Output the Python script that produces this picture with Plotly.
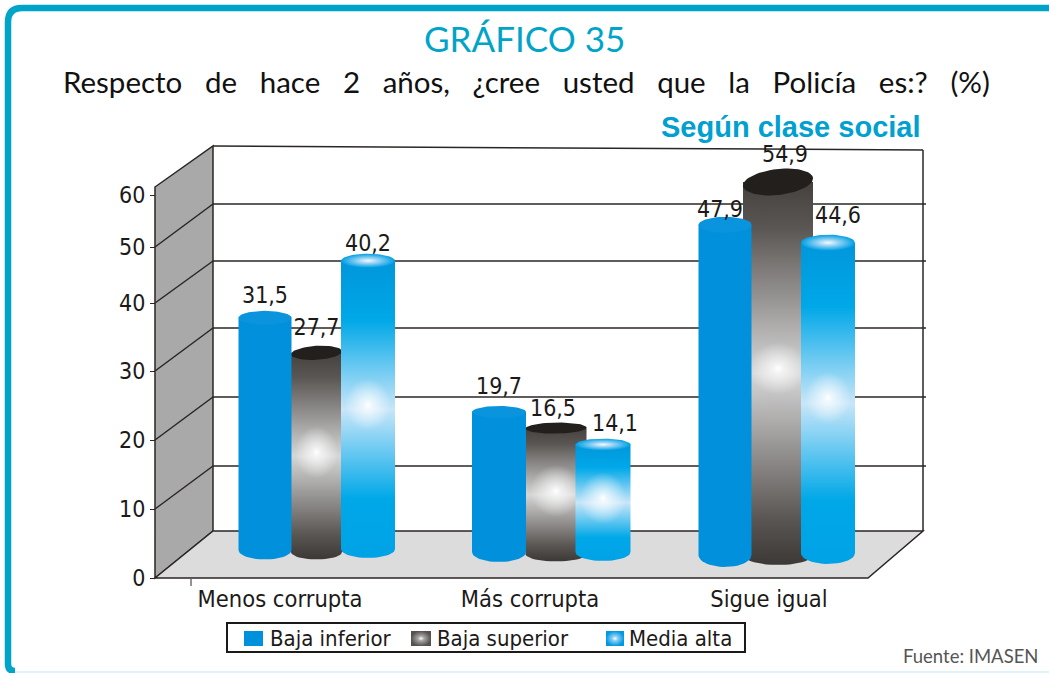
import numpy as np
import plotly.graph_objects as go

# ---------- data ----------
categories = ["Menos corrupta", "Más corrupta", "Sigue igual"]
baja_inferior = [31.5, 19.7, 47.9]
baja_superior = [27.7, 16.5, 54.9]
media_alta = [40.2, 14.1, 44.6]
axis_ticks = [0, 10, 20, 30, 40, 50, 60]

# ---------- geometry of the pseudo-3D picture (pixels of the page) ----------
W, H = 1049, 673
def ux(px): return (np.asarray(px, float) - 316) / 232
def uy(px): return (531 - np.asarray(px, float)) / 6.9

wall_px = [531, 466, 397, 328, 261, 204, 147]     # tick height on back wall
side_px = [578, 509, 440, 371, 303, 247, 187]     # same tick at the front of the side wall
tick_px = [578, 509, 440, 371, 303, 247, 195]     # axis tick labels
scale_units = uy(wall_px)
def vscale(v):           # the printed scale is not uniform
    return np.interp(v, axis_ticks, scale_units) - 1.0

BLUE, GRAY_TOP, CYAN = "#0090dc", "#231f1c", "#00a6e8"
TEAL = "#00a4c8"
LABEL_FONT = "DejaVu Sans Condensed"
INK = "#1c1a18"

series = [
    dict(name="Baja superior", values=baja_superior,
         cx=[316.5, 556, 778], hw=[25.5, 30.5, 35], tilt=[1.5, 0.5, 3.5], eh=[7, 5.5, 13], nudge=[2, 0, -1],
         bottom=[552, 554, 555], bh=[7.5, 7.5, 10],
         body=[[0, "#3c3835"], [0.12, "#5a5654"], [0.5, "#d6d6d6"], [0.88, "#5a5654"], [1, "#45413f"]],
         top=GRAY_TOP, glow=True),
    dict(name="Baja inferior", values=baja_inferior,
         cx=[265, 499, 725], hw=[26.5, 27, 26.5], tilt=[0, 0, 0], eh=[7, 6, 8], nudge=[-7, 6, 2],
         bottom=[550, 552, 555], bh=[9.5, 10, 12],
         body=None, top="#0a94de", glow=False),
    dict(name="Media alta", values=media_alta,
         cx=[368, 603, 828], hw=[27, 27.5, 27], tilt=[0, 0, 0], eh=[7, 6, 8], nudge=[-6, 0, 1],
         bottom=[549, 552, 553], bh=[9, 9, 11],
         body=[[0, "#00a2e6"], [0.2, "#00a8e8"], [0.5, "#c8e6f9"], [0.8, "#00a8e8"], [1, "#0096dc"]],
         top=None, glow=True),
]

label_dx = {"Baja inferior": [0, 0, -5], "Baja superior": [0, -3, 7], "Media alta": [0, 12, 10]}
label_dy = {"Baja inferior": [21, 24, 14], "Baja superior": [24, 18, 26], "Media alta": [16, 19, 25]}

fig = go.Figure()
label_x, label_y, label_t = [], [], []
t = np.linspace(0, np.pi, 24)

for s in series:
    for i, v in enumerate(s["values"]):
        top_u = float(vscale(v))
        top_px = 531 - top_u * 6.9 + s["nudge"][i]
        cx, hw = s["cx"][i], s["hw"][i]
        # cylinder body: straight sides, rounded foot
        foot_x = cx + hw * np.cos(t)
        foot_y = s["bottom"][i] + s["bh"][i] * np.sin(t)
        xs = np.r_[cx - hw, cx + hw, foot_x]
        ys = np.r_[uy(top_px), uy(top_px), uy(foot_y)]
        kw = dict(fillcolor=BLUE) if s["body"] is None else dict(
            fillgradient=dict(type="vertical", colorscale=s["body"]))
        fig.add_trace(go.Scatter(
            x=ux(xs), y=ys, mode="lines", fill="toself", line=dict(width=0),
            showlegend=False, hoverinfo="skip", **kw))
        # highlight in the centre of the gradient
        if s["glow"]:
            mid = (top_px + s["bottom"][i]) / 2
            a = np.linspace(0, 2 * np.pi, 40)
            fig.add_trace(go.Scatter(
                x=ux(cx + hw * 0.85 * np.cos(a)), y=uy(mid + 26 * np.sin(a)),
                mode="lines", fill="toself", line=dict(width=0), showlegend=False, hoverinfo="skip",
                fillgradient=dict(type="radial",
                                  colorscale=[[0, "rgba(255,255,255,1)"], [0.2, "rgba(255,255,255,0.7)"],
                                              [1, "rgba(255,255,255,0)"]])))
        # top ellipse
        a = np.linspace(0, 2 * np.pi, 60)
        ex = cx + hw * np.cos(a)
        ey = top_px + s["eh"][i] * np.sin(a) - s["tilt"][i] * np.cos(a)
        kw = dict(fillcolor=s["top"]) if s["top"] else dict(
            fillgradient=dict(type="radial",
                              colorscale=[[0, "#f4fbff"], [0.35, "#9fd6f5"], [1, "#009fe4"]]))
        fig.add_trace(go.Scatter(x=ux(ex), y=uy(ey), mode="lines", fill="toself",
                                 line=dict(width=0), showlegend=False, hoverinfo="skip", **kw))
        label_x.append(float(ux(cx + label_dx[s["name"]][i])))
        label_y.append(float(uy(top_px - label_dy[s["name"]][i])))
        label_t.append(f"{v:.1f}".replace(".", ","))

fig.add_trace(go.Scatter(x=label_x, y=label_y, text=label_t, mode="text", textposition="middle center",
                         showlegend=False, hoverinfo="skip",
                         textfont=dict(family=LABEL_FONT, size=23, color=INK)))

# legend keys (drawn by hand: the original box is much flatter than a Plotly legend can be)
legend_names = ["Baja inferior", "Baja superior", "Media alta"]
legend_key_x = [(244, 263), (411, 431), (606, 624)]
legend_text_x = [268, 435, 627]
legend_fill = [dict(fillcolor=BLUE),
               dict(fillgradient=dict(type="radial", colorscale=[[0, "#ffffff"], [0.3, "#a8a8a8"], [1, "#55514e"]])),
               dict(fillgradient=dict(type="radial", colorscale=[[0, "#ffffff"], [0.3, "#8fd0f4"], [1, "#0098e0"]]))]
for (x0, x1), kw in zip(legend_key_x, legend_fill):
    fig.add_trace(go.Scatter(x=ux([x0, x1, x1, x0, x0]), y=uy([631, 631, 646, 646, 631]), mode="lines",
                             fill="toself", line=dict(width=0), showlegend=False, hoverinfo="skip", **kw))

# ---------- walls, floor, frame ----------
def P(pts):
    return "M " + " L ".join(f"{float(ux(x)):.4f} {float(uy(y)):.3f}" for x, y in pts) + " Z"
def line(x0, y0, x1, y1, color="#2a2624", width=1.5):
    return dict(type="line", x0=float(ux(x0)), x1=float(ux(x1)), y0=float(uy(y0)), y1=float(uy(y1)),
                line=dict(color=color, width=width), layer="below")

shapes = [
    dict(type="path", path=P([(155, 187), (213, 146), (213, 531), (155, 578)]),
         fillcolor="#a9a9a9", line=dict(color="#2a2624", width=1.5), layer="below"),
    dict(type="path", path=P([(155, 578), (213, 531), (923, 531), (868, 578)]),
         fillcolor="#dcdcdc", line=dict(color="#2a2624", width=1.5), layer="below"),
    line(213, 146, 923, 150), line(923, 150, 923, 531),
    line(191, 579, 191, 586, width=1),
    dict(type="path", path=P([(227, 623), (745, 623), (745, 652), (227, 652)]),
         fillcolor="white", line=dict(color=INK, width=2), layer="below"),
]
for k in range(1, 6):
    shapes.append(line(155, side_px[k], 213, wall_px[k]))
    shapes.append(line(213, wall_px[k], 926, wall_px[k]))
fx0, fy0 = float(ux(8)), float(uy(8))
shapes.append(dict(type="path",
                   path=(f"M {float(ux(1060))} {fy0} L {float(ux(22))} {fy0} "
                         f"Q {fx0} {fy0} {fx0} {float(uy(22))} L {fx0} {float(uy(664))} "
                         f"Q {fx0} {float(uy(671))} {float(ux(15))} {float(uy(671))}"),
                   line=dict(color=TEAL, width=6.5), layer="below"))
shapes.append(line(15, 672, 1049, 672, color="#d4f0f8", width=1.5))

def note(text, xc, yc, family, size, color, bold=False, anchor="center"):
    return dict(x=xc / W, y=1 - yc / H, xref="paper", yref="paper", text=f"<b>{text}</b>" if bold else text,
                showarrow=False, xanchor=anchor, yanchor="middle",
                font=dict(family=family, size=size, color=color))

sp = "\u00a0\u00a0\u00a0"
subtitle = sp.join(["Respecto", "de", "hace", "2", "años,", "¿cree", "usted", "que", "la", "Policía", "es:?", "(%)"])
annotations = [
    note("GRÁFICO 35", 524, 38, "Lato", 35, TEAL),
    note(subtitle, 526, 81, "Lato", 29.5, "#111111"),
    note("Según clase social", 791, 127, "Liberation Sans", 29, "#00a0d0", bold=True),
    note("Fuente: IMASEN", 970, 656, "Lato", 18.5, "#555555"),
]
for name, x in zip(legend_names, legend_text_x):
    annotations.append(note(name, x, 638, LABEL_FONT, 22, INK, anchor="left"))

fig.update_layout(
    width=W, height=H, autosize=False, margin=dict(l=0, r=0, t=0, b=0),
    paper_bgcolor="white", plot_bgcolor="white", shapes=shapes, annotations=annotations,
    xaxis=dict(range=[float(ux(0)), float(ux(W))], domain=[0, 1], anchor="free", position=1 - 582 / H,
               showgrid=False, zeroline=False, showline=False, ticks="",
               tickmode="array", tickvals=[float(v) for v in ux([280, 530, 769])], ticktext=categories,
               tickfont=dict(family=LABEL_FONT, size=23.5, color=INK)),
    yaxis=dict(range=[float(uy(H)), float(uy(0))], domain=[0, 1], anchor="free", position=155 / W,
               showgrid=False, zeroline=False, showline=False, ticks="outside", ticklen=5, tickcolor="#2a2624",
               tickmode="array", tickvals=[float(v) for v in uy(tick_px)], ticktext=[str(v) for v in axis_ticks],
               tickfont=dict(family=LABEL_FONT, size=23, color=INK)),
    showlegend=False,
)

fig.write_html("out.html", config={"displayModeBar": False},
               post_script="document.body.style.margin='0';")
